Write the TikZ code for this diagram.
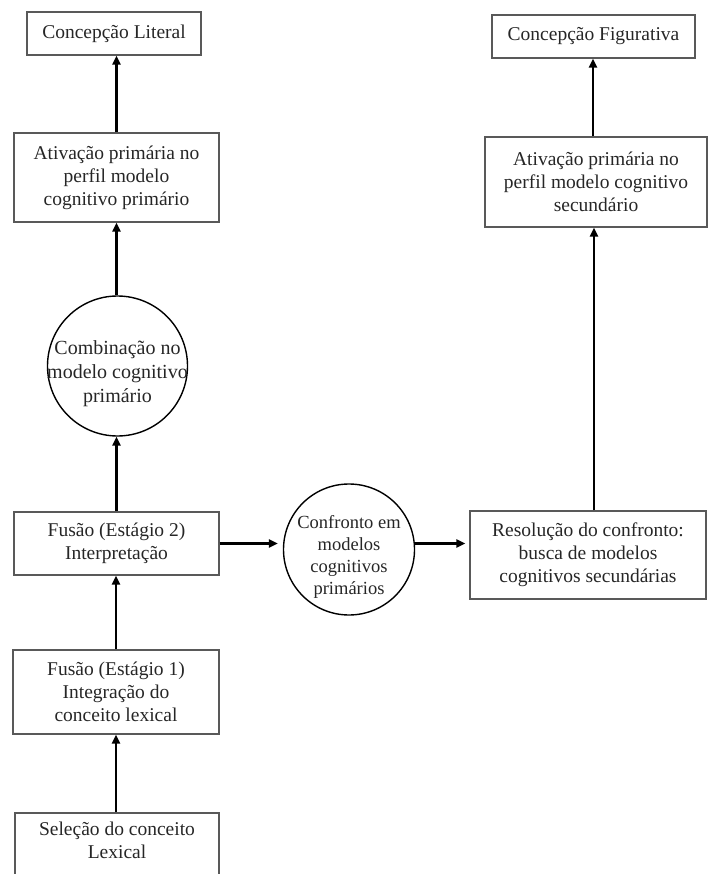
\documentclass[tikz,border=0pt]{standalone}
\usepackage{fontspec}
\setmainfont{Liberation Serif}
\usetikzlibrary{arrows.meta}

\tikzset{
    caixa/.style={draw=black!65, line width=1.2pt, align=center, inner sep=2pt,
        font=\fontsize{19.5}{23}\selectfont, text=black!85},
    bola/.style={draw=black, line width=1.4pt, circle, inner sep=0pt},
    seta/.style={line width=2.2pt, -{Triangle[width=8pt,length=9pt]}},
}

\begin{document}
\begin{tikzpicture}[x=1pt,y=-1pt]
    \useasboundingbox (0,0) rectangle (709,874);
    \clip (0,0) rectangle (709,874);

    % lado esquerdo
    \node[caixa, minimum width=174pt, minimum height=43pt] (lit) at (114,33.5) {Concepção Literal};
    \node[caixa, minimum width=205pt, minimum height=89pt] (ativ1) at (116.5,177.5)
        {Ativação primária no\\perfil modelo\\cognitivo primário};
    \node[bola, minimum size=140pt,
        label={[caixa, draw=none, align=center, yshift=-8pt,
            font=\fontsize{20}{24}\selectfont]center:Combinação no\\modelo cognitivo\\primário}]
        (comb) at (117.5,366) {};
    \node[caixa, minimum width=205pt, minimum height=63pt] (fus2) at (116.5,543.5)
        {Fusão (Estágio 2)\\Interpretação};
    \node[caixa, minimum width=206pt, minimum height=84pt] (fus1) at (116,692)
        {Fusão (Estágio 1)\\Integração do\\conceito lexical};
    \node[caixa, minimum width=204pt, minimum height=84pt] (sel) at (117,855)
        {Seleção do conceito\\Lexical\\\strut};

    % meio e lado direito
    \node[bola, minimum size=131pt,
        label={[caixa, draw=none, align=center, yshift=-7pt,
            font=\fontsize{18.5}{22}\selectfont]center:Confronto em\\modelos\\cognitivos\\primários}]
        (conf) at (349,549.5) {};
    \node[caixa, minimum width=236pt, minimum height=88pt] (res) at (588,555)
        {Resolução do confronto:\\busca de modelos\\cognitivos secundárias};
    \node[caixa, minimum width=222pt, minimum height=90pt] (ativ2) at (596,182)
        {Ativação primária no\\perfil modelo cognitivo\\secundário};
    \node[caixa, minimum width=203pt, minimum height=43pt] (fig) at (593.5,36.5) {Concepção Figurativa};

    \draw[seta] (sel.north -| fus1.south) -- (fus1.south);
    \draw[seta] (fus1.north) -- (fus1.north |- fus2.south);
    \draw[seta] (fus2.north) -- (fus2.north |- comb.south);
    \draw[seta] (fus2.north |- comb.north) -- (fus2.north |- ativ1.south);
    \draw[seta] (ativ1.north) -- (ativ1.north |- lit.south);
    \draw[seta, shorten >=5pt] (fus2.east) -- (fus2.east -| conf.west);
    \draw[seta, shorten >=4pt] (conf.east |- fus2.east) -- (fus2.east -| res.west);
    \draw[seta] (res.north -| 594,0) -- (ativ2.south -| 594,0);
    \draw[seta] (ativ2.north -| 593,0) -- (fig.south -| 593,0);
\end{tikzpicture}
\end{document}
